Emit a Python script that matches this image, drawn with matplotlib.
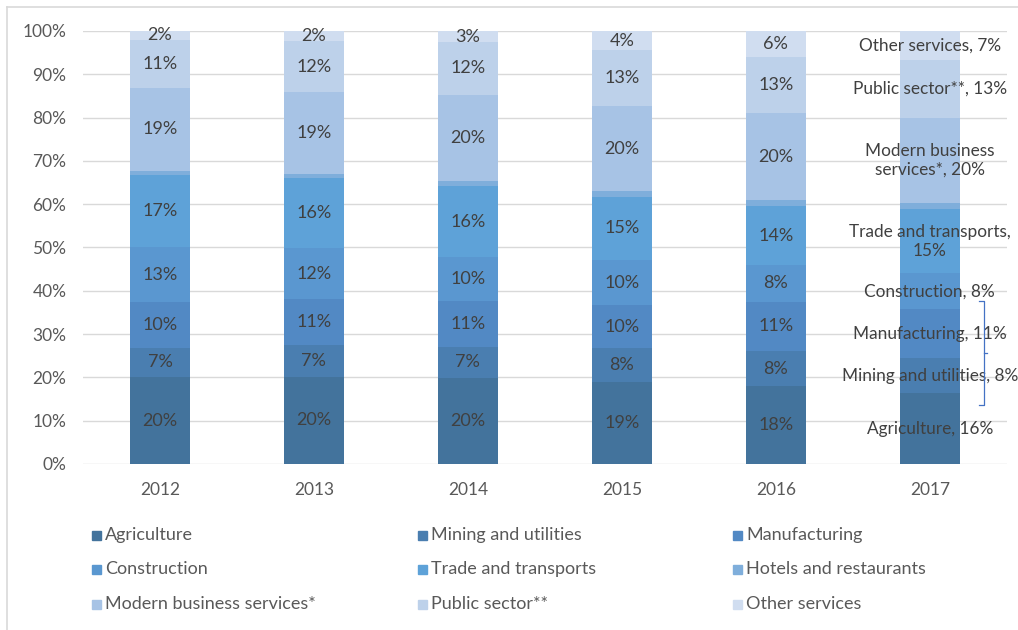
import numpy as np
import matplotlib
matplotlib.use("Agg")
import matplotlib.pyplot as plt
from matplotlib.patches import Rectangle
from matplotlib.lines import Line2D

plt.rcParams['font.family'] = ['Lato', 'DejaVu Sans']

# shares of employment by sector, %
years = ['2012', '2013', '2014', '2015', '2016', '2017']
sectors = ['Agriculture', 'Mining and utilities', 'Manufacturing',
           'Construction', 'Trade and transports', 'Hotels and restaurants',
           'Modern business services*', 'Public sector**', 'Other services']

agriculture = [20.0, 20.2, 19.9, 19.0, 17.9, 16.3]
mining      = [6.9, 7.3, 7.2, 7.7, 8.2, 8.2]
manufact    = [10.4, 10.6, 10.6, 10.0, 11.4, 11.2]
construct   = [12.9, 11.7, 10.2, 10.4, 8.4, 8.3]
trade       = [16.6, 16.2, 16.2, 14.6, 13.6, 14.8]
hotels      = [0.9, 1.0, 1.3, 1.3, 1.4, 1.4]
modern      = [19.2, 18.8, 19.9, 19.7, 20.1, 19.8]
public      = [11.1, 12.0, 12.1, 12.9, 13.1, 13.4]
other       = [2.0, 2.2, 2.6, 4.4, 5.9, 6.6]

colors = ['#43739c', '#4a7eb0', '#5289c4', '#5a97d0', '#5ea2d8',
          '#7faedb', '#a7c3e5', '#bdd1ea', '#d0ddf0']

# labels written next to the 2017 bar
side_fmt = ['Agriculture, {}%', 'Mining and utilities, {}%', 'Manufacturing, {}%',
            'Construction, {}%', 'Trade and transports,\n{}%', None,
            'Modern business\nservices*, {}%', 'Public sector**, {}%',
            'Other services, {}%']

series = [agriculture, mining, manufact, construct, trade, hotels, modern, public, other]

fig = plt.figure(figsize=(10.18, 6.30), dpi=100)
ax = fig.add_axes([0.0815, 0.2635, 0.9075, 0.6873])

x = np.arange(len(years))
bottom = np.zeros(len(years))
label_col = '#404040'

for i, vals in enumerate(series):
    vals = np.array(vals)
    ax.bar(x, vals, bottom=bottom, width=0.39, color=colors[i], zorder=2)
    mids = bottom + vals / 2
    if sectors[i] != 'Hotels and restaurants':
        for j in range(len(years) - 1):
            ax.text(x[j], mids[j], f"{vals[j]:.0f}%", ha='center', va='center',
                    fontsize=13, color=label_col, zorder=3)
        ax.text(x[-1], mids[-1], side_fmt[i].format(f"{vals[-1]:.0f}"),
                ha='center', va='center', fontsize=12.4, color=label_col,
                zorder=3, clip_on=False, linespacing=1.2)
    bottom += vals

# brace next to the 2017 labels
bc = '#4472c4'
ax.plot([5.318, 5.349, 5.349, 5.318], [37.6, 37.6, 13.6, 13.6], color=bc, lw=0.9,
        clip_on=False, zorder=3)
ax.plot([5.349, 5.37], [25.6, 25.6], color=bc, lw=0.9, clip_on=False, zorder=3)

ax.set_xlim(-0.5, 5.5)
ax.set_ylim(0, 100)
ax.set_yticks(np.arange(0, 101, 10))
ax.set_yticklabels([f"{v}%" for v in range(0, 101, 10)])
ax.set_xticks(x)
ax.set_xticklabels(years)
ax.tick_params(axis='both', length=0, labelsize=12.5, colors='#595959')
ax.tick_params(axis='y', pad=12)
ax.tick_params(axis='x', pad=13)
ax.yaxis.grid(True, color='#d9d9d9', lw=1)
ax.set_axisbelow(True)
for s in ax.spines.values():
    s.set_visible(False)

# legend laid out like the Excel one: 3 columns, row-wise
col_x = [92, 418, 733]
row_y = [535, 569, 604]
W, H = 1018.0, 630.0
for i, name in enumerate(sectors):
    cx = col_x[i % 3]
    cy = row_y[i // 3]
    fig.patches.append(Rectangle((cx / W, (H - cy - 4.5) / H), 9 / W, 9 / H,
                                 transform=fig.transFigure, color=colors[i]))
    fig.text((cx + 13) / W, (H - cy) / H, name, ha='left', va='center',
             fontsize=13, color='#595959')

# frame edges of the original chart box
fig.lines.append(Line2D([7 / W, 7 / W], [0, 1 - 7 / H], transform=fig.transFigure,
                        color='#d9d9d9', lw=1.2))
fig.lines.append(Line2D([7 / W, 1], [1 - 7 / H, 1 - 7 / H], transform=fig.transFigure,
                        color='#d9d9d9', lw=1.2))

fig.savefig('out.png', dpi=100)
